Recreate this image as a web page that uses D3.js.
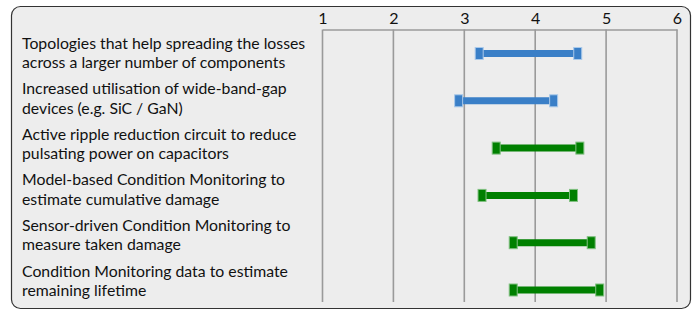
<!DOCTYPE html>
<html>
<head>
<meta charset="utf-8">
<script src="https://cdn.jsdelivr.net/npm/d3@7"></script>
<style>
  body { margin: 0; background: #fff; }
  svg text { font-family: Lato, "Open Sans", sans-serif; fill: #111; }
</style>
</head>
<body>
<svg id="chart" width="696" height="310"></svg>
<script>
// labels of each row (two lines each)
var labels = [
  ["Topologies that help spreading the losses", "across a larger number of components"],
  ["Increased utilisation of wide-band-gap", "devices (e.g. SiC / GaN)"],
  ["Active ripple reduction circuit to reduce", "pulsating power on capacitors"],
  ["Model-based Condition Monitoring to", "estimate cumulative damage"],
  ["Sensor-driven Condition Monitoring to", "measure taken damage"],
  ["Condition Monitoring data to estimate", "remaining lifetime"]
];
// range start / end for every row
var lowValues = [3.21, 2.92, 3.45, 3.25, 3.69, 3.69];
var highValues = [4.60, 4.26, 4.63, 4.54, 4.79, 4.91];
var groups = ["blue", "blue", "green", "green", "green", "green"];
var ticks = [1, 2, 3, 4, 5, 6];

var colors = {blue: "#3a7fc7", green: "#008000"};
var capColors = {blue: "#a9c9ea", green: "#80c080"};

var svg = d3.select("#chart");

// rounded frame
svg.append("rect")
  .attr("x", 11.5).attr("y", 6.5)
  .attr("width", 679).attr("height", 302)
  .attr("rx", 9).attr("ry", 9)
  .style("fill", "#ededed")
  .style("stroke", "#333")
  .style("stroke-width", 1.2);

var x = d3.scaleLinear().domain([1, 6]).range([322.5, 677]);
var rows = d3.range(labels.length);
var yBar = d3.scalePoint().domain(rows).range([53.5, 290]);
var yLabel = d3.scalePoint().domain(rows).range([52.5, 280.5]);
var plotTop = 29.5, plotBottom = 302;

// vertical grid lines
svg.selectAll(".grid")
  .data(ticks)
  .enter().append("line")
  .attr("class", "grid")
  .attr("x1", function(d) { return x(d); })
  .attr("x2", function(d) { return x(d); })
  .attr("y1", plotTop).attr("y2", plotBottom)
  .style("stroke", "#9a9a9a")
  .style("stroke-width", 1.6);

// top axis
var xAxis = d3.axisTop(x).tickValues(ticks).tickFormat(d3.format("d"))
  .tickSize(0).tickPadding(6);
var axisG = svg.append("g")
  .attr("transform", "translate(0," + plotTop + ")")
  .call(xAxis);
axisG.select(".domain").style("stroke", "#9a9a9a").style("stroke-width", 1.6);
axisG.selectAll("text")
  .style("font-family", "Lato, 'Open Sans', sans-serif")
  .style("font-size", "16px")
  .style("fill", "#111");

// row labels
var lab = svg.selectAll(".lab")
  .data(labels)
  .enter().append("text")
  .attr("class", "lab")
  .attr("x", 22)
  .attr("y", function(d, i) { return yLabel(i) - 4; })
  .style("font-size", "15.8px");
lab.selectAll("tspan")
  .data(function(d) { return d; })
  .enter().append("tspan")
  .attr("x", 22)
  .attr("dy", function(d, i) { return i == 0 ? 0 : 19.5; })
  .text(function(d) { return d; });

// range bars
svg.selectAll(".bar")
  .data(rows)
  .enter().append("line")
  .attr("class", "bar")
  .attr("x1", function(i) { return x(lowValues[i]); })
  .attr("x2", function(i) { return x(highValues[i]); })
  .attr("y1", function(i) { return yBar(i); })
  .attr("y2", function(i) { return yBar(i); })
  .style("stroke", function(i) { return colors[groups[i]]; })
  .style("stroke-width", 7);

// end caps
var caps = [];
rows.forEach(function(i) {
  caps.push({v: lowValues[i], i: i});
  caps.push({v: highValues[i], i: i});
});
svg.selectAll(".cap")
  .data(caps)
  .enter().append("rect")
  .attr("class", "cap")
  .attr("x", function(d) { return x(d.v) - 4; })
  .attr("y", function(d) { return yBar(d.i) - 6; })
  .attr("width", 8).attr("height", 12)
  .style("fill", function(d) { return colors[groups[d.i]]; })
  .style("stroke", function(d) { return capColors[groups[d.i]]; })
  .style("stroke-width", 1);
</script>
</body>
</html>
